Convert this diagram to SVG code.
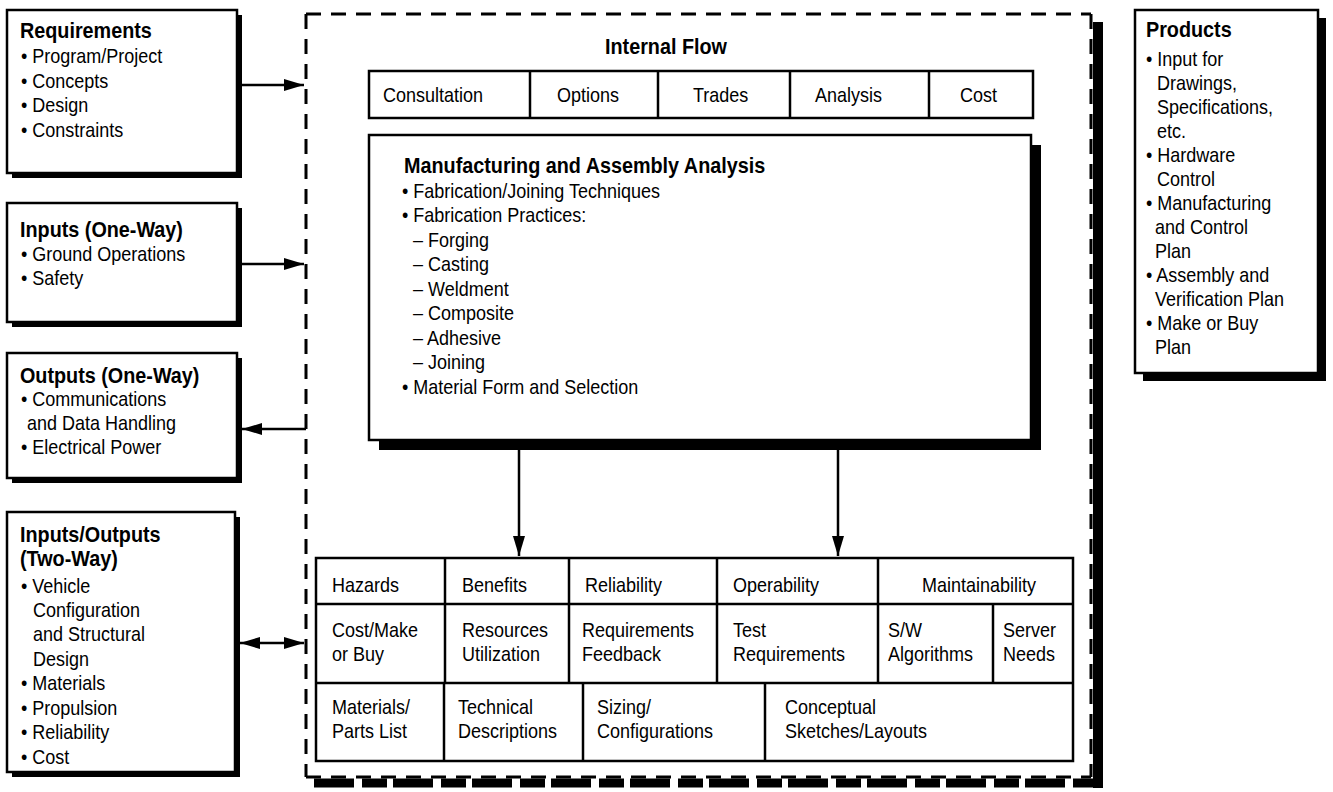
<svg xmlns="http://www.w3.org/2000/svg" width="1333" height="792" viewBox="0 0 1333 792">
<defs>
<style>
text{font-family:"Liberation Sans",Arial,sans-serif;font-size:20px;fill:#000}
.b{font-weight:bold;font-size:22px}
.box{fill:#fff;stroke:#000;stroke-width:2.5}
.sh{fill:#000}
.cell{fill:#fff;stroke:#000;stroke-width:2.5}
.div{stroke:#000;stroke-width:2.5;fill:none}
.dash{stroke:#000;stroke-width:3;fill:none;stroke-dasharray:15 10}
.con{stroke:#000;stroke-width:2.5;fill:none}
</style>
<marker id="ah" viewBox="0 0 20 12" refX="20" refY="6" markerWidth="20" markerHeight="12" markerUnits="userSpaceOnUse" orient="auto-start-reverse">
<path d="M0,0 L20,6 L0,12 Z" fill="#000"/>
</marker>
</defs>
<rect width="1333" height="792" fill="#fff"/>

<g id="boundary">
<rect x="1093" y="22" width="10" height="766" fill="#000"/>
<line x1="314" y1="783" x2="1103" y2="783" stroke="#000" stroke-width="9" stroke-dasharray="40 8 25 6"/>
<line class="dash" x1="306" y1="14" x2="1091" y2="14"/>
<line class="dash" x1="306" y1="14" x2="306" y2="777"/>
<line class="dash" x1="1091" y1="14" x2="1091" y2="777"/>
<line class="dash" x1="306" y1="777" x2="1091" y2="777"/>
</g>

<g id="requirements">
<rect class="sh" x="12" y="15" width="230" height="163"/>
<rect class="box" x="7" y="10" width="230" height="163"/>
<g transform="scale(0.9,1)">
<text class="b" x="22.2" y="38">Requirements</text>
<text x="23.3" y="63">• Program/Project</text>
<text x="23.3" y="88">• Concepts</text>
<text x="23.3" y="112">• Design</text>
<text x="23.3" y="137">• Constraints</text>
</g>
</g>

<g id="inputs-one-way">
<rect class="sh" x="12" y="208" width="230" height="119"/>
<rect class="box" x="7" y="203" width="230" height="119"/>
<g transform="scale(0.9,1)">
<text class="b" x="22.2" y="237">Inputs (One-Way)</text>
<text x="23.3" y="261">• Ground Operations</text>
<text x="23.3" y="285">• Safety</text>
</g>
</g>

<g id="outputs-one-way">
<rect class="sh" x="12" y="358" width="230" height="125"/>
<rect class="box" x="7" y="353" width="230" height="125"/>
<g transform="scale(0.9,1)">
<text class="b" x="22.2" y="383">Outputs (One-Way)</text>
<text x="23.3" y="406">• Communications</text>
<text x="30" y="430">and Data Handling</text>
<text x="23.3" y="454">• Electrical Power</text>
</g>
</g>

<g id="inputs-outputs">
<rect class="sh" x="12" y="517" width="228" height="260"/>
<rect class="box" x="7" y="512" width="228" height="260"/>
<g transform="scale(0.9,1)">
<text class="b" x="22.2" y="542">Inputs/Outputs</text>
<text class="b" x="22.2" y="566">(Two-Way)</text>
<text x="23.3" y="593">• Vehicle</text>
<text x="36.7" y="617">Configuration</text>
<text x="36.7" y="641">and Structural</text>
<text x="36.7" y="666">Design</text>
<text x="23.3" y="690">• Materials</text>
<text x="23.3" y="715">• Propulsion</text>
<text x="23.3" y="739">• Reliability</text>
<text x="23.3" y="764">• Cost</text>
</g>
</g>

<g id="products">
<rect class="sh" x="1143" y="18" width="183" height="363"/>
<rect class="box" x="1135" y="10" width="183" height="363"/>
<g transform="scale(0.9,1)">
<text class="b" x="1273.3" y="37">Products</text>
<text x="1273.3" y="66">• Input for</text>
<text x="1285.6" y="90">Drawings,</text>
<text x="1285.6" y="114">Specifications,</text>
<text x="1285.6" y="138">etc.</text>
<text x="1273.3" y="162">• Hardware</text>
<text x="1285.6" y="186">Control</text>
<text x="1273.3" y="210">• Manufacturing</text>
<text x="1283.3" y="234">and Control</text>
<text x="1283.3" y="258">Plan</text>
<text x="1273.3" y="282">• Assembly and</text>
<text x="1283.3" y="306">Verification Plan</text>
<text x="1273.3" y="330">• Make or Buy</text>
<text x="1283.3" y="354">Plan</text>
</g>
</g>

<g id="internal-flow">
<rect class="cell" x="369" y="71" width="664" height="47"/>
<line class="div" x1="530" y1="71" x2="530" y2="118"/>
<line class="div" x1="658" y1="71" x2="658" y2="118"/>
<line class="div" x1="790" y1="71" x2="790" y2="118"/>
<line class="div" x1="929" y1="71" x2="929" y2="118"/>
<g transform="scale(0.9,1)">
<text class="b" x="672.2" y="54">Internal Flow</text>
<text x="425.6" y="102">Consultation</text>
<text x="618.9" y="102">Options</text>
<text x="770" y="102">Trades</text>
<text x="905.6" y="102">Analysis</text>
<text x="1066.7" y="102">Cost</text>
</g>
</g>

<g id="manufacturing-assembly">
<rect class="sh" x="379" y="145" width="662" height="305"/>
<rect class="box" x="369" y="135" width="662" height="305"/>
<g transform="scale(0.9,1)">
<text class="b" x="448.9" y="173">Manufacturing and Assembly Analysis</text>
<text x="446.7" y="198">• Fabrication/Joining Techniques</text>
<text x="446.7" y="222">• Fabrication Practices:</text>
<text x="458.9" y="247">– Forging</text>
<text x="458.9" y="271">– Casting</text>
<text x="458.9" y="296">– Weldment</text>
<text x="458.9" y="320">– Composite</text>
<text x="458.9" y="345">– Adhesive</text>
<text x="458.9" y="369">– Joining</text>
<text x="446.7" y="394">• Material Form and Selection</text>
</g>
</g>

<g id="analysis-grid">
<rect class="cell" x="316" y="558" width="757" height="203" stroke-width="3"/>
<line class="div" x1="316" y1="604" x2="1073" y2="604"/>
<line class="div" x1="316" y1="683" x2="1073" y2="683"/>
<line class="div" x1="445" y1="558" x2="445" y2="683"/>
<line class="div" x1="569" y1="558" x2="569" y2="683"/>
<line class="div" x1="717" y1="558" x2="717" y2="683"/>
<line class="div" x1="878" y1="558" x2="878" y2="683"/>
<line class="div" x1="993" y1="604" x2="993" y2="683"/>
<line class="div" x1="444" y1="683" x2="444" y2="761"/>
<line class="div" x1="583" y1="683" x2="583" y2="761"/>
<line class="div" x1="765" y1="683" x2="765" y2="761"/>
<g transform="scale(0.9,1)">
<text x="368.9" y="592">Hazards</text>
<text x="513.3" y="592">Benefits</text>
<text x="650" y="592">Reliability</text>
<text x="814.4" y="592">Operability</text>
<text x="1024.4" y="592">Maintainability</text>
<text x="368.9" y="637">Cost/Make</text>
<text x="368.9" y="661">or Buy</text>
<text x="513.3" y="637">Resources</text>
<text x="513.3" y="661">Utilization</text>
<text x="646.7" y="637">Requirements</text>
<text x="646.7" y="661">Feedback</text>
<text x="814.4" y="637">Test</text>
<text x="814.4" y="661">Requirements</text>
<text x="986.7" y="637">S/W</text>
<text x="986.7" y="661">Algorithms</text>
<text x="1114.4" y="637">Server</text>
<text x="1114.4" y="661">Needs</text>
<text x="368.9" y="714">Materials/</text>
<text x="368.9" y="738">Parts List</text>
<text x="508.9" y="714">Technical</text>
<text x="508.9" y="738">Descriptions</text>
<text x="663.3" y="714">Sizing/</text>
<text x="663.3" y="738">Configurations</text>
<text x="872.2" y="714">Conceptual</text>
<text x="872.2" y="738">Sketches/Layouts</text>
</g>
</g>

<g id="connectors">
<line class="con" x1="242" y1="85" x2="304" y2="85" marker-end="url(#ah)"/>
<line class="con" x1="242" y1="264" x2="304" y2="264" marker-end="url(#ah)"/>
<line class="con" x1="306" y1="429" x2="242" y2="429" marker-end="url(#ah)"/>
<line class="con" x1="240" y1="643" x2="304" y2="643" marker-start="url(#ah)" marker-end="url(#ah)"/>
<line class="con" x1="519" y1="450" x2="519" y2="556" marker-end="url(#ah)"/>
<line class="con" x1="838" y1="450" x2="838" y2="556" marker-end="url(#ah)"/>
</g>
</svg>
